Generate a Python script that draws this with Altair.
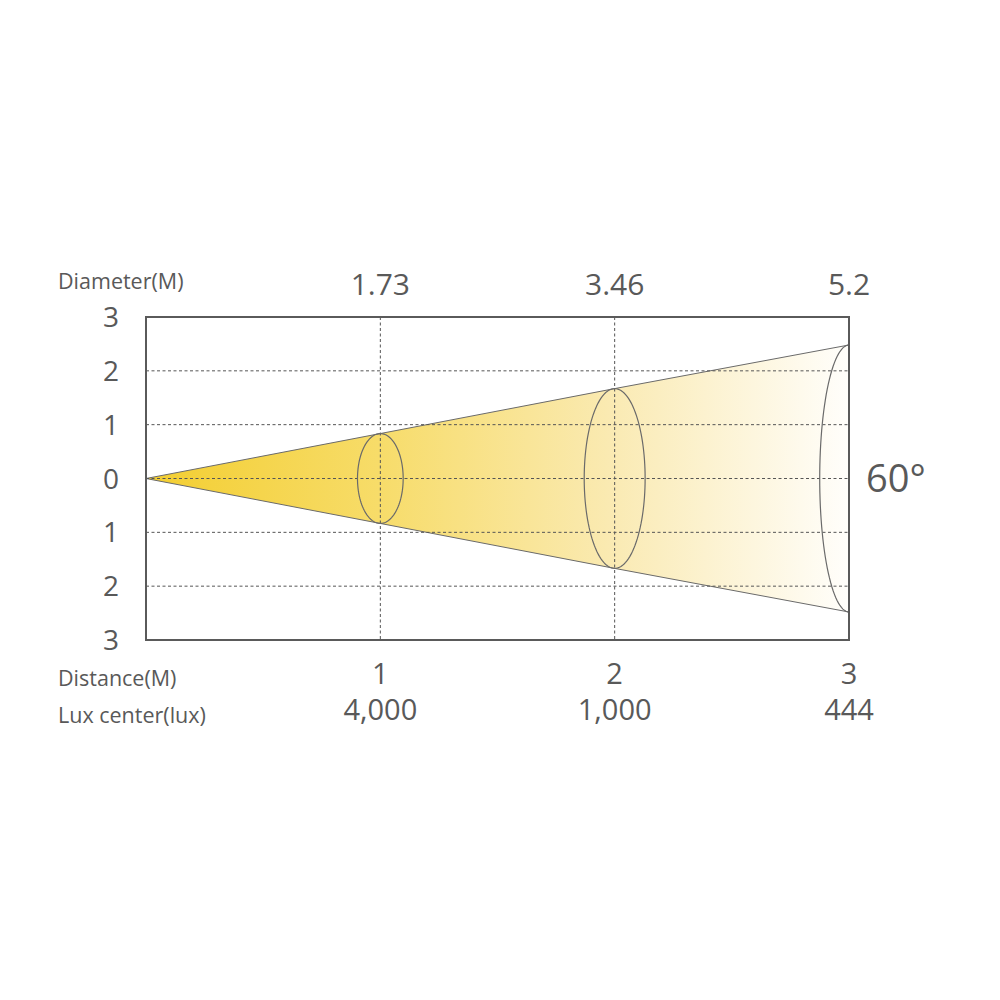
import altair as alt
import pandas as pd
import numpy as np

# ---- data ----
distance = [0, 1, 2, 3]
beam_radius = [0, 0.835, 1.67, 2.48]          # half height of the beam (M) as drawn
ring_distance = [1, 2, 3]
ring_halfwidth = [0.0975, 0.13, 0.125]        # perspective half width of the rings
ring_radius = [0.835, 1.67, 2.48]
ring_full = [True, True, False]               # last ring only its left half
diameter_labels = ["1.73", "3.46", "5.2"]
distance_labels = ["1", "2", "3"]
lux_labels = ["4,000", "1,000", "444"]
y_ticks = [3, 2, 1, 0, -1, -2, -3]
y_tick_labels = ["3", "2", "1", "0", "1", "2", "3"]
grid_y = [-2, -1, 0, 1, 2]
grid_x = [1, 2]
beam_angle = "60°"

TXT = "#595959"
FONT = "Open Sans"
W, H = 703, 323

xs = alt.Scale(domain=[0, 3], nice=False, zero=False)
ys = alt.Scale(domain=[-3, 3], nice=False, zero=False)

beam = pd.DataFrame({
    "x": distance,
    "top": beam_radius,
    "bottom": [-r for r in beam_radius],
})

rows = []
for i, (cx, hw, r, full) in enumerate(zip(ring_distance, ring_halfwidth, ring_radius, ring_full)):
    t = np.linspace(0, 2 * np.pi, 121) if full else np.linspace(np.pi / 2, 3 * np.pi / 2, 61)
    for k, tt in enumerate(t):
        rows.append({"ring": i, "o": k, "x": cx + hw * np.cos(tt), "y": r * np.sin(tt)})
rings = pd.DataFrame(rows)

grad = alt.Gradient(
    gradient="linear",
    stops=[
        alt.GradientStop(color="#F3CE30", offset=0),
        alt.GradientStop(color="#F7DC69", offset=0.33),
        alt.GradientStop(color="#FAEAB2", offset=0.66),
        alt.GradientStop(color="#FFFEFB", offset=1),
    ],
    x1=0, x2=1, y1=0, y2=0,
)

area = alt.Chart(beam).mark_area(color=grad, stroke="#6a6a6a", strokeWidth=1).encode(
    x=alt.X("x:Q", scale=xs, axis=None),
    y=alt.Y("top:Q", scale=ys, axis=None),
    y2="bottom:Q",
)

hgrid = alt.Chart(pd.DataFrame({"y": grid_y})).mark_rule(
    color="#555555", strokeWidth=1, strokeDash=[3, 2.5]
).encode(y=alt.Y("y:Q", scale=ys, axis=None), x=alt.value(0), x2=alt.value(W))

vgrid = alt.Chart(pd.DataFrame({"x": grid_x})).mark_rule(
    color="#555555", strokeWidth=1, strokeDash=[3, 2.5]
).encode(x=alt.X("x:Q", scale=xs, axis=None), y=alt.value(0), y2=alt.value(H))

ring_lines = alt.Chart(rings).mark_line(color="#6a6a6a", strokeWidth=1.2).encode(
    x=alt.X("x:Q", scale=xs, axis=None),
    y=alt.Y("y:Q", scale=ys, axis=None),
    detail="ring:N",
    order="o:Q",
)

border = alt.Chart(pd.DataFrame({"a": [0]})).mark_rect(
    filled=False, stroke="#5a5a5a", strokeWidth=2
).encode(x=alt.value(0), x2=alt.value(W), y=alt.value(0), y2=alt.value(H))

top_lab = alt.Chart(pd.DataFrame({"x": ring_distance, "t": diameter_labels})).mark_text(
    font=FONT, fontSize=30, color=TXT, align="center", baseline="alphabetic"
).encode(x=alt.X("x:Q", scale=xs, axis=None), y=alt.value(-22), text="t:N")

dist_lab = alt.Chart(pd.DataFrame({"x": ring_distance, "t": distance_labels})).mark_text(
    font=FONT, fontSize=29, color=TXT, align="center", baseline="alphabetic"
).encode(x=alt.X("x:Q", scale=xs, axis=None), y=alt.value(367), text="t:N")

lux_lab = alt.Chart(pd.DataFrame({"x": ring_distance, "t": lux_labels})).mark_text(
    font=FONT, fontSize=29, color=TXT, align="center", baseline="alphabetic"
).encode(x=alt.X("x:Q", scale=xs, axis=None), y=alt.value(403), text="t:N")

ylab = alt.Chart(pd.DataFrame({"y": y_ticks, "t": y_tick_labels})).mark_text(
    font=FONT, fontSize=28, color=TXT, align="right", baseline="middle", dy=2
).encode(y=alt.Y("y:Q", scale=ys, axis=None), x=alt.value(-27), text="t:N")

def note(txt, px, py, size, align="left"):
    return alt.Chart(pd.DataFrame({"t": [txt]})).mark_text(
        font=FONT, fontSize=size, color=TXT, align=align, baseline="alphabetic"
    ).encode(x=alt.value(px), y=alt.value(py), text="t:N")

chart = alt.layer(
    area, hgrid, vgrid, ring_lines, border,
    top_lab, dist_lab, lux_lab, ylab,
    note("Diameter(M)", -88, -28, 21.5),
    note("Distance(M)", -88, 369, 21.5),
    note("Lux center(lux)", -88, 406, 21.5),
    note(beam_angle, 720, 175, 38),
).properties(
    width=W, height=H,
    padding={"left": 138, "top": 309, "right": 120, "bottom": 300},
    autosize=alt.AutoSizeParams(type="none"),
).configure_view(strokeWidth=0)

chart.save("out.html", embed_options={"renderer": "svg", "actions": False})
